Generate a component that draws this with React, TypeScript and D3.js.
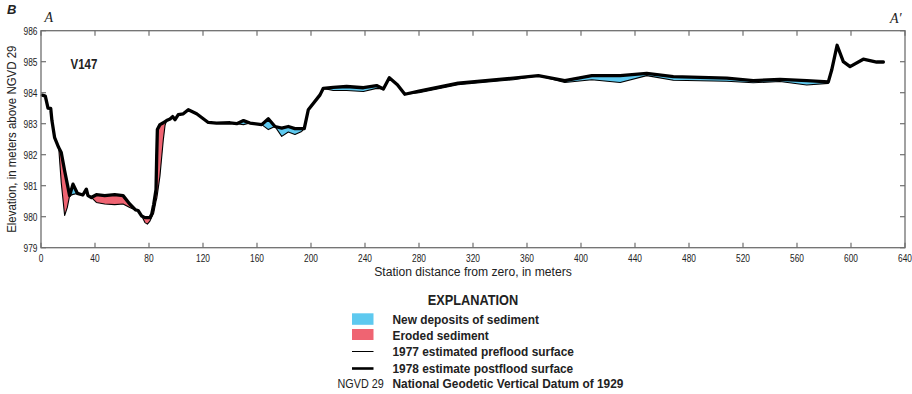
import React from "react";
import * as d3 from "d3";

// Station distance (m)
const stations = [1, 3.2, 5.2, 7.2, 8.1, 10.1, 13.1, 15, 17.5, 19.5, 21.2, 23.7, 27, 31, 33.6, 34.8, 37.3, 41, 47.2, 54.6, 60.8, 65.7, 70, 71.9, 74.6, 77, 78.8, 80.7, 82, 83.5, 85.2, 85.7, 86.2, 88.1, 90.6, 91.9, 93, 95.6, 97.5, 99.3, 101.7, 105.4, 109.1, 115.3, 123.9, 130, 140, 145, 150, 154.8, 163.5, 168.4, 173.3, 178.3, 183.2, 188.1, 193.1, 195, 198, 206.7, 209.1, 216.5, 226.4, 238.8, 248.6, 253.6, 258, 264, 269.5, 280, 309, 350, 368.4, 388, 408, 429, 448.7, 468.4, 508, 527.6, 547.4, 567.2, 583.2, 585.7, 589.7, 594.3, 599.3, 609.1, 619, 624];

// 1978 estimated postflood surface (m above NGVD 29)
const postflood = [983.92, 983.89, 983.5, 983.49, 983.1, 982.55, 982.23, 982.07, 981.48, 981.05, 980.68, 981.05, 980.75, 980.7, 980.89, 980.68, 980.62, 980.71, 980.68, 980.71, 980.68, 980.41, 980.22, 980.2, 980.02, 979.97, 979.97, 979.97, 980.08, 980.4, 980.88, 981.95, 982.81, 982.97, 983.03, 983.07, 983.1, 983.15, 983.23, 983.13, 983.29, 983.32, 983.45, 983.32, 983.04, 983.02, 983.03, 983.0, 983.1, 983.02, 982.97, 983.16, 982.91, 982.86, 982.91, 982.84, 982.84, 982.84, 983.45, 983.93, 984.14, 984.17, 984.2, 984.16, 984.23, 984.12, 984.48, 984.26, 983.95, 984.05, 984.31, 984.47, 984.55, 984.39, 984.55, 984.55, 984.62, 984.52, 984.47, 984.39, 984.43, 984.39, 984.35, 984.73, 985.53, 985.0, 984.84, 985.08, 984.99, 984.99];

// 1977 estimated preflood surface (m above NGVD 29)
const preflood = [983.92, 983.89, 983.5, 983.49, 983.1, 982.55, 982.23, 981.1, 980.04, 980.3, 980.68, 980.72, 980.75, 980.7, 980.89, 980.68, 980.62, 980.46, 980.41, 980.39, 980.41, 980.3, 980.22, 980.2, 980.02, 979.81, 979.76, 979.86, 979.98, 980.12, 980.5, 980.58, 980.72, 981.31, 982.48, 982.95, 983.1, 983.15, 983.23, 983.13, 983.29, 983.32, 983.45, 983.32, 983.04, 983.02, 983.03, 983.0, 982.97, 983.02, 982.97, 982.81, 982.91, 982.59, 982.73, 982.65, 982.75, 982.84, 983.45, 983.93, 984.14, 984.07, 984.07, 984.04, 984.14, 984.12, 984.48, 984.26, 983.95, 984.0, 984.26, 984.42, 984.55, 984.33, 984.42, 984.33, 984.55, 984.4, 984.37, 984.32, 984.36, 984.25, 984.3, 984.73, 985.53, 985.0, 984.84, 985.08, 984.99, 984.99];

// Sediment change zones (station ranges)
const zoneStart = [0, 22.5, 30, 100];
const zoneEnd = [22.5, 30, 100, 640];
const zoneType = ["eroded", "deposit", "eroded", "deposit"];

const xTicks = [0, 40, 80, 120, 160, 200, 240, 280, 320, 360, 400, 440, 480, 520, 560, 600, 640];
const yTicks = [979, 980, 981, 982, 983, 984, 985, 986];

const legendItems = [
  { kind: "deposit", label: "New deposits of sediment" },
  { kind: "eroded", label: "Eroded sediment" },
  { kind: "thin", label: "1977 estimated preflood surface" },
  { kind: "thick", label: "1978 estimate postflood surface" },
  { kind: "abbr", label: "National Geodetic Vertical Datum of 1929" },
];

const FONT = "'Liberation Sans', Arial, sans-serif";
const BLUE = "#5ec9ef";
const RED = "#ef6472";
const AXIS = "#6f6f6f";

// Condensed text: horizontally scaled about its anchor point
function NT({ x, y, sx = 0.85, rotate = 0, children, ...rest }: any) {
  return (
    <text transform={`translate(${x},${y}) rotate(${rotate}) scale(${sx},1)`} fill="#222" {...rest}>
      {children}
    </text>
  );
}

export default function App() {
  const W = 912, H = 394;
  const left = 41, right = 905, top = 30.7, bottom = 247.7;
  const x = d3.scaleLinear().domain([0, 640]).range([left, right]);
  const y = d3.scaleLinear().domain([979, 986]).range([bottom, top]);

  const rows = stations.map((s, i) => ({ s, pre: preflood[i], post: postflood[i] }));
  const area = d3.area<any>().x(d => x(d.s)).y0(d => y(d.pre)).y1(d => y(d.post));
  const preLine = d3.line<any>().x(d => x(d.s)).y(d => y(d.pre));
  const postLine = d3.line<any>().x(d => x(d.s)).y(d => y(d.post));
  const areaPath = area(rows) || "";

  const tick = 5;
  const cx = (left + right) / 2;

  return (
    <svg width={W} height={H} style={{ position: "absolute", left: 0, top: 0, display: "block" }} fontFamily={FONT}>
      <defs>
        {zoneStart.map((z, i) => (
          <clipPath id={`zone${i}`} key={i}>
            <rect x={x(z)} y={0} width={x(zoneEnd[i]) - x(z)} height={H} />
          </clipPath>
        ))}
      </defs>
      {zoneStart.map((z, i) => (
        <path key={i} d={areaPath} fill={zoneType[i] === "deposit" ? BLUE : RED} clipPath={`url(#zone${i})`} />
      ))}
      <path d={preLine(rows) || ""} fill="none" stroke="#000" strokeWidth={1.1} strokeLinejoin="round" />
      <path d={postLine(rows) || ""} fill="none" stroke="#000" strokeWidth={3.3} strokeLinejoin="round" strokeLinecap="round" />

      <rect x={left} y={top} width={right - left} height={bottom - top} fill="none" stroke={AXIS} strokeWidth={1.3} />
      {xTicks.map(t => (
        <g key={"x" + t}>
          <line x1={x(t)} x2={x(t)} y1={bottom} y2={bottom - tick} stroke={AXIS} strokeWidth={1.2} />
          <line x1={x(t)} x2={x(t)} y1={top} y2={top + tick} stroke={AXIS} strokeWidth={1.2} />
          <NT x={x(t)} y={bottom + 14} sx={0.76} fontSize={11} textAnchor="middle">{t}</NT>
        </g>
      ))}
      {yTicks.map(t => (
        <g key={"y" + t}>
          <line x1={left} x2={left + tick} y1={y(t)} y2={y(t)} stroke={AXIS} strokeWidth={1.2} />
          <line x1={right} x2={right - tick} y1={y(t)} y2={y(t)} stroke={AXIS} strokeWidth={1.2} />
          <NT x={left - 3.5} y={y(t) + 4} sx={0.76} fontSize={11} textAnchor="end">{t}</NT>
        </g>
      ))}
      <NT x={cx} y={276} sx={0.9} fontSize={13.5} textAnchor="middle">Station distance from zero, in meters</NT>
      <NT x={15.5} y={(top + bottom) / 2} rotate={-90} sx={0.85} fontSize={13.5} textAnchor="middle">Elevation, in meters above NGVD 29</NT>

      <text x={7} y={13.5} fontSize={13} fontWeight="bold" fontStyle="italic" fill="#222">B</text>
      <text x={44.5} y={21.5} fontSize={14} fontStyle="italic" fontFamily="'Liberation Serif', 'Times New Roman', serif" fill="#222">A</text>
      <text x={890} y={22.5} fontSize={14} fontStyle="italic" fontFamily="'Liberation Serif', 'Times New Roman', serif" fill="#222">A′</text>
      <NT x={70.5} y={68.5} sx={0.82} fontSize={14} fontWeight="bold">V147</NT>

      <NT x={cx} y={305} sx={0.88} fontSize={14.5} fontWeight="bold" textAnchor="middle">EXPLANATION</NT>
      {legendItems.map((it, i) => {
        const base = [324.3, 339.5, 356, 372.7, 388.3][i];
        return (
          <g key={it.label}>
            {it.kind === "deposit" && <rect x={352} y={313.3} width={21.5} height={11.5} fill={BLUE} />}
            {it.kind === "eroded" && <rect x={352} y={329} width={21.5} height={11} fill={RED} />}
            {it.kind === "thin" && <line x1={352} x2={373.5} y1={351.5} y2={351.5} stroke="#000" strokeWidth={1} />}
            {it.kind === "thick" && <line x1={352} x2={373.5} y1={368.5} y2={368.5} stroke="#000" strokeWidth={2.6} />}
            {it.kind === "abbr" && <NT x={337.5} y={base} sx={0.8} fontSize={13.5}>NGVD 29</NT>}
            <NT x={392.5} y={base} sx={0.88} fontSize={13.5} fontWeight="bold">{it.label}</NT>
          </g>
        );
      })}
    </svg>
  );
}
